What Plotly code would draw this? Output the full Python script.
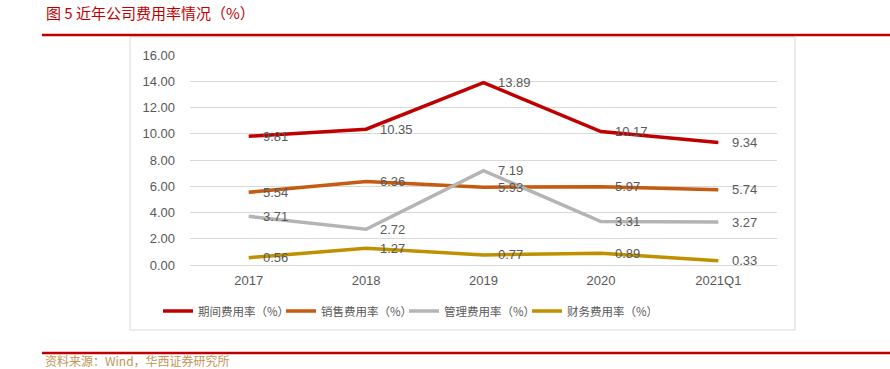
import plotly.graph_objects as go

categories = ["2017", "2018", "2019", "2020", "2021Q1"]
period_rate = [9.81, 10.35, 13.89, 10.17, 9.34]
sales_rate = [5.54, 6.36, 5.93, 5.97, 5.74]
admin_rate = [3.71, 2.72, 7.19, 3.31, 3.27]
finance_rate = [0.56, 1.27, 0.77, 0.89, 0.33]

series_names = ["期间费用率（%）", "销售费用率（%）", "管理费用率（%）", "财务费用率（%）"]
series_values = [period_rate, sales_rate, admin_rate, finance_rate]
series_colors = ["#C00000", "#C55A11", "#B4B4B4", "#BF9000"]

title_text = "图 5 近年公司费用率情况（%）"
source_text = "资料来源：Wind，华西证券研究所"

CJK = "Noto Sans CJK SC"
NUM = "Liberation Sans, Arial, sans-serif"

fig = go.Figure()
annotations = []
for name, vals, col in zip(series_names, series_values, series_colors):
    fig.add_trace(go.Scatter(
        x=categories, y=vals, name=name, mode="lines",
        line=dict(color=col, width=3.5),
    ))
    for i, v in enumerate(vals):
        annotations.append(dict(
            x=i, y=v, xref="x", yref="y", text=f"{v:.2f}", showarrow=False,
            xanchor="left", yanchor="middle", xshift=12,
            font=dict(family=NUM, size=13, color="#595959"),
        ))

L, R, T, B = 190, 777, 55, 265
W, H = R - L, B - T

def px(x):
    return (x - L) / W

def py(y):
    return (B - y) / H

annotations.append(dict(
    x=px(44), y=py(12), xref="paper", yref="paper", text=title_text,
    showarrow=False, xanchor="left", yanchor="middle",
    font=dict(family=CJK, size=15, color="#C00000"),
))
annotations.append(dict(
    x=px(44), y=py(360), xref="paper", yref="paper", text=source_text,
    showarrow=False, xanchor="left", yanchor="middle", borderpad=0,
    font=dict(family=CJK, size=12, color="#BE9656"),
))

shapes = [
    dict(type="rect", xref="paper", yref="paper",
         x0=px(130), x1=px(795), y0=py(330), y1=py(37),
         line=dict(color="#D9D9D9", width=1), layer="below"),
    dict(type="line", xref="paper", yref="paper",
         x0=px(42), x1=px(890), y0=py(35), y1=py(35),
         line=dict(color="#C00000", width=2.5)),
    dict(type="line", xref="paper", yref="paper",
         x0=px(42), x1=px(890), y0=py(353), y1=py(353),
         line=dict(color="#C00000", width=2.5)),
]

fig.update_layout(
    width=890, height=369,
    margin=dict(l=L, r=890 - R, t=T, b=369 - B, autoexpand=False),
    paper_bgcolor="white", plot_bgcolor="white",
    showlegend=True,
    legend=dict(orientation="h", x=px(158), y=py(311), xanchor="left", yanchor="middle",
                font=dict(family=CJK, size=11.5, color="#595959"),
                itemwidth=30, tracegroupgap=0,
                entrywidth=78, entrywidthmode="pixels"),
    annotations=annotations,
    shapes=shapes,
)
fig.update_xaxes(
    type="category", range=[-0.5, 4.5], showgrid=False, showline=False, zeroline=False,
    tickfont=dict(family=NUM, size=13, color="#595959"),
    ticks="", ticklabelstandoff=6, automargin=False,
)
fig.update_yaxes(
    range=[0, 16], dtick=2, tickformat=".2f",
    showgrid=True, gridcolor="#D9D9D9", gridwidth=1, zeroline=True,
    zerolinecolor="#D9D9D9", zerolinewidth=1, showline=False,
    tickfont=dict(family=NUM, size=13, color="#595959"),
    ticks="", ticklabelstandoff=14, automargin=False,
)

fig.write_html(
    "out.html",
    config={"displayModeBar": False},
    post_script="document.body.style.margin='0';document.body.style.overflow='hidden';",
)
